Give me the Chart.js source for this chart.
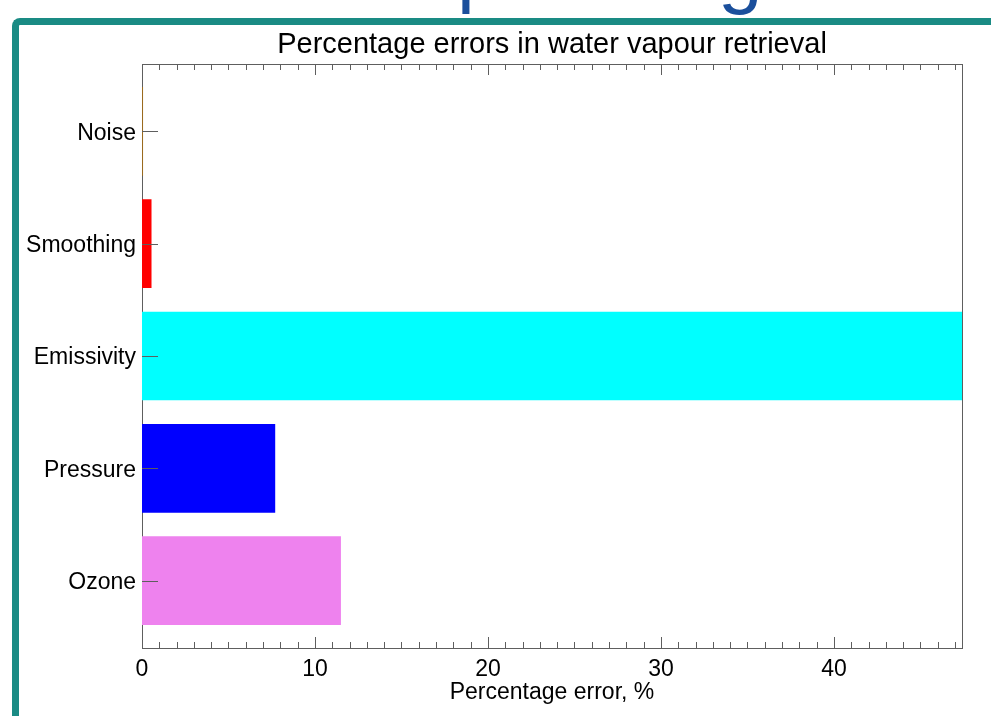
<!DOCTYPE html>
<html>
<head>
<meta charset="utf-8">
<script src="https://cdn.jsdelivr.net/npm/chart.js@4/dist/chart.umd.min.js"></script>
<style>
  html, body { margin: 0; padding: 0; background: #fff; overflow: hidden; }
  #page { position: relative; width: 991px; height: 716px; overflow: hidden; }
  .slideTitle { position: absolute; font-family: "Liberation Sans", Arial, sans-serif; font-size: 80px; line-height: 1; color: #1b4f9c; }
  #frame { position: absolute; left: 12px; top: 18px; width: 1000px; height: 720px;
           border-left: 7px solid #1a8b84; border-top: 7px solid #1a8b84; border-top-left-radius: 8px; }
  #wrap { position: absolute; left: 0; top: 0; width: 991px; height: 716px; }
</style>
</head>
<body>
<div id="page">
  <span class="slideTitle" style="left:457px; top:-70px;">p</span>
  <span class="slideTitle" style="left:718px; top:-69px;">g</span>
  <div id="frame"></div>
  <div id="wrap"><canvas id="chart" width="991" height="716"></canvas></div>
</div>
<script>
'use strict';

const categories = ['Noise', 'Smoothing', 'Emissivity', 'Pressure', 'Ozone'];
const errorValues = [0.06, 0.55, 47.4, 7.7, 11.5];
const barColors = ['#9a6a1e', '#ff0000', '#00ffff', '#0000ff', '#ee82ee'];
const xTickValues = [0, 10, 20, 30, 40];
const xMax = 47.4;

const FONT = '"Liberation Sans", Arial, sans-serif';
const AXIS_COLOR = '#5e5e5e';

// IDL style axes: box round the plot (under the bars), ticks pointing inwards (over them)
const idlAxes = {
    id: 'idlAxes',
    beforeDatasetsDraw(chart) {
        const ctx = chart.ctx;
        const a = chart.chartArea;
        ctx.save();
        ctx.strokeStyle = AXIS_COLOR;
        ctx.lineWidth = 1;
        ctx.strokeRect(Math.round(a.left) + 0.5, Math.round(a.top) + 0.5,
            Math.round(a.right - a.left), Math.round(a.bottom - a.top));
        ctx.restore();
    },
    afterDatasetsDraw(chart) {
        const ctx = chart.ctx;
        const a = chart.chartArea;
        const x = chart.scales.x;
        const y = chart.scales.y;
        ctx.save();
        ctx.strokeStyle = AXIS_COLOR;
        ctx.lineWidth = 1;
        ctx.beginPath();
        for (let v = 0; v <= x.max; v += 1) {
            const px = Math.round(x.getPixelForValue(v)) + 0.5;
            const len = (v % 10 === 0) ? 11 : 6;
            ctx.moveTo(px, a.bottom);
            ctx.lineTo(px, a.bottom - len);
            ctx.moveTo(px, a.top);
            ctx.lineTo(px, a.top + len);
        }
        for (let i = 0; i < categories.length; i++) {
            const py = Math.round(y.getPixelForValue(i)) + 0.5;
            ctx.moveTo(a.left, py);
            ctx.lineTo(a.left + 16, py);
        }
        ctx.stroke();
        ctx.restore();
    }
};

const ctx = document.getElementById('chart').getContext('2d');
const chart = new Chart(ctx, {
    type: 'bar',
    data: {
        datasets: [{
            data: errorValues.map((v, i) => ({ x: v, y: i })),
            backgroundColor: barColors,
            borderWidth: 0,
            categoryPercentage: 1,
            barPercentage: 0.79
        }]
    },
    options: {
        indexAxis: 'y',
        responsive: false,
        animation: false,
        layout: { padding: { left: 0, right: 29, top: 0, bottom: 0 } },
        scales: {
            x: {
                type: 'linear',
                position: 'bottom',
                min: 0,
                max: xMax,
                offset: false,
                afterBuildTicks: (axis) => { axis.ticks = xTickValues.map(v => ({ value: v })); },
                afterFit: (axis) => { axis.height = 68; },
                grid: { display: false, drawTicks: false },
                border: { display: false },
                ticks: { color: '#000', padding: 8, maxRotation: 0, font: { family: FONT, size: 23 } },
                title: {
                    display: true,
                    text: 'Percentage error, %',
                    color: '#000',
                    font: { family: FONT, size: 23 },
                    padding: { top: 0, bottom: 10 }
                }
            },
            y: {
                type: 'linear',
                min: -0.6,
                max: 4.6,
                reverse: true,
                offset: false,
                afterBuildTicks: (axis) => { axis.ticks = categories.map((c, i) => ({ value: i })); },
                afterFit: (axis) => { axis.width = 142; },
                grid: { display: false, drawTicks: false, offset: false },
                border: { display: false },
                ticks: {
                    color: '#000',
                    padding: 6,
                    labelOffset: 2,
                    font: { family: FONT, size: 23 },
                    callback: (v) => categories[v]
                }
            }
        },
        plugins: {
            legend: { display: false },
            tooltip: { enabled: false },
            title: {
                display: true,
                fullSize: false,
                text: 'Percentage errors in water vapour retrieval',
                color: '#000',
                font: { family: FONT, size: 29, weight: 'normal' },
                padding: { top: 28, bottom: 1.2 }
            }
        }
    },
    plugins: [idlAxes]
});
</script>
</body>
</html>
